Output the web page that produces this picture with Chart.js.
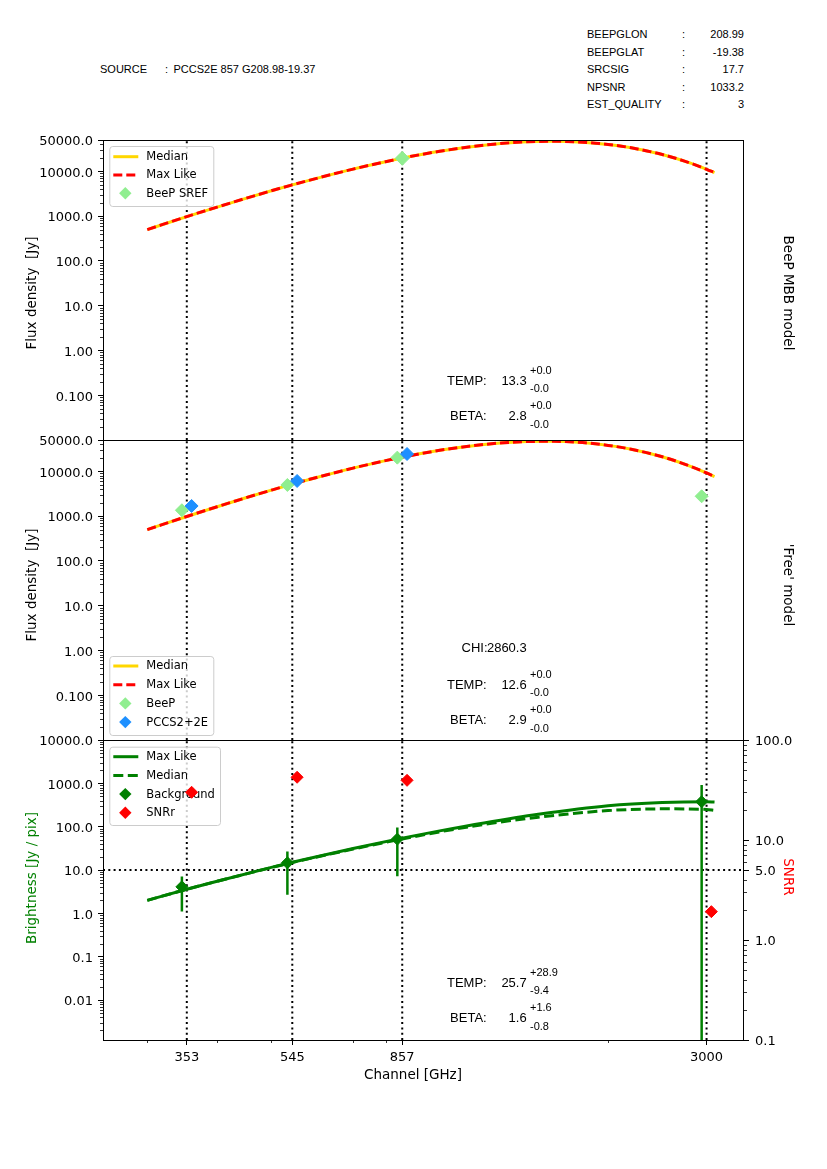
<!DOCTYPE html>
<html>
<head>
<meta charset="utf-8">
<script src="https://cdn.jsdelivr.net/npm/chart.js@4.4.1/dist/chart.umd.min.js"></script>
<style>
  body { margin: 0; background: #fff; }
  #page { position: relative; width: 827px; height: 1169px; overflow: hidden; background: #fff; }
  #page canvas { position: absolute; left: 0; }
  .t { position: absolute; white-space: pre; line-height: 1; color: #000; }
</style>
</head>
<body>
<div id="page">
  <canvas id="beepChart" width="827" height="340" style="top:120px"></canvas>
  <canvas id="freeChart" width="827" height="340" style="top:420px"></canvas>
  <canvas id="brightChart" width="827" height="380" style="top:720px"></canvas>
</div>
<script>
// Header info
const sourceName = 'PCCS2E 857 G208.98-19.37';
const infoKeys = ['BEEPGLON', 'BEEPGLAT', 'SRCSIG', 'NPSNR', 'EST_QUALITY'];
const infoValues = ['208.99', '-19.38', '17.7', '1033.2', '3'];

// Channels (GHz) and tick labels
const channels = [353, 545, 857, 3000];
const channelLabels = ['353', '545', '857', '3000'];
const channelMinor = [300, 400, 500, 700, 800, 2000];

const fluxTicks = [50000, 10000, 1000, 100, 10, 1, 0.1];
const fluxTickLabels = ['50000.0', '10000.0', '1000.0', '100.0', '10.0', '1.00', '0.100'];
const brightTicks = [10000, 1000, 100, 10, 1, 0.1, 0.01];
const brightTickLabels = ['10000.0', '1000.0', '100.0', '10.0', '1.0', '0.1', '0.01'];
const snrTicks = [100, 10, 5, 1, 0.1];
const snrTickLabels = ['100.0', '10.0', '5.0', '1.0', '0.1'];

// Model curves
const modelFreq = [300, 353, 400, 450, 500, 545, 600, 700, 800, 857, 1000, 1200, 1400, 1600, 1800, 2000, 2200, 2500, 2800, 3000, 3100];
const beepModelFlux = [500, 975, 1590, 2490, 3670, 4980, 6870, 11200, 16400, 19700, 28000, 38300, 44900, 46800, 44800, 39800, 33500, 23700, 15400, 11100, 9350];
const freeModelFlux = [500, 980, 1620, 2560, 3790, 5180, 7190, 11800, 17300, 20700, 29400, 39700, 45700, 46800, 43700, 37900, 31100, 21100, 13100, 9200, 7640];

// Photometry
const beepSrefFreq = [857];
const beepSrefFlux = [19500];
const beepFlux = [1350, 4950, 20200, 2770];
const pccsFlux = [1680, 6080, 24350];

// Background brightness panel
const brightFreq = [300, 353, 400, 500, 545, 700, 857, 1000, 1200, 1500, 2000, 2500, 3000, 3100];
const brightMaxLike = [2.0, 3.6, 5.5, 11.5, 15.1, 31.5, 54.5, 80, 122, 193, 305, 362, 378, 370];
const brightMedian = [2.0, 3.6, 5.5, 11.4, 14.9, 30.5, 52, 76, 113, 165, 235, 258, 250, 238];
const background = [4.1, 14.7, 51.7, 376];
const backgroundErr = [3.0, 12, 44.5, 540];
const snr = [30, 42.4, 39.5, 1.92];
const snrLevel = 10; // brightness level matching SNR 5

// Fit results
const fitTemp = ['13.3', '12.6', '25.7'];
const fitTempUp = ['+0.0', '+0.0', '+28.9'];
const fitTempDown = ['-0.0', '-0.0', '-9.4'];
const fitBeta = ['2.8', '2.9', '1.6'];
const fitBetaUp = ['+0.0', '+0.0', '+1.6'];
const fitBetaDown = ['-0.0', '-0.0', '-0.8'];
const freeChi = '2860.3';

const GREEN = '#008000';
const GOLD = '#FFD700';
const LIGHTGREEN = '#90EE90';
const BLUE = '#1E90FF';
const X_MIN = 250, X_MAX = 3500;
const FLUX_MIN = 0.01, FLUX_MAX = 50000;
const BRIGHT_MIN = 0.0012, BRIGHT_MAX = 10000;
const SNR_MIN = 0.1, SNR_MAX = 100;
const tickFont = { family: 'DejaVu Sans', size: 13 };
const dotted = [2, 3.3];

const pts = (xs, ys, k = 1) => ys.map((y, i) => ({ x: xs[i] * k, y }));

function logMinors(lo, hi, skip) {
  const out = [];
  for (let e = Math.floor(Math.log10(lo)); e <= Math.ceil(Math.log10(hi)); e++) {
    for (let m = 2; m <= 9; m++) {
      const v = m * Math.pow(10, e);
      if (v > lo && v < hi && !skip.some(s => Math.abs(s - v) < 1e-9 * v)) out.push(v);
    }
  }
  return out;
}

function yAxis(min, max, ticks, labels, position, width) {
  return {
    type: 'logarithmic', position, min, max, bounds: 'data',
    afterBuildTicks: s => { s.ticks = ticks.map(v => ({ value: v })); },
    afterFit: s => { s.width = width; },
    grid: { drawOnChartArea: false, drawTicks: true, tickLength: 5, color: '#000', lineWidth: 1 },
    border: { display: false },
    ticks: { autoSkip: false, padding: position === 'left' ? 5 : 6, labelOffset: 2, color: '#000', font: tickFont,
      callback: (v, i) => labels[i] }
  };
}

function xAxis(show) {
  return {
    type: 'logarithmic', min: X_MIN, max: X_MAX, bounds: 'data', display: show,
    afterBuildTicks: s => { s.ticks = channels.map(v => ({ value: v })); },
    afterFit: s => { s.height = show ? 40 : 0; },
    grid: { drawOnChartArea: false, drawTicks: true, tickLength: 5, color: '#000', lineWidth: 1 },
    border: { display: false },
    ticks: { autoSkip: false, maxRotation: 0, padding: 5, color: '#000', font: tickFont,
      callback: (v, i) => channelLabels[i] }
  };
}

// dotted channel markers spanning the panel
function channelLines(yMin, yMax, yAxisID) {
  return channels.map(c => ({
    label: 'ch' + c, data: [{ x: c, y: yMin }, { x: c, y: yMax }], yAxisID,
    showLine: true, borderColor: '#000', borderWidth: 2, borderDash: dotted,
    pointRadius: 0, order: 10
  }));
}

function curve(label, data, color, dash, order, yAxisID = 'y') {
  return {
    label, data, yAxisID, showLine: true, borderColor: color, borderWidth: 3,
    borderDash: dash || [], cubicInterpolationMode: 'monotone', pointRadius: 0, order
  };
}

function markers(label, data, color, r, order, yAxisID = 'y') {
  return {
    label, data, yAxisID, pointStyle: 'rectRot', pointRadius: r,
    pointBackgroundColor: color, pointBorderColor: color, pointBorderWidth: 1, order
  };
}

// panel frame
const framePlugin = {
  id: 'frame',
  afterDatasetsDraw(chart) {
    const a = chart.chartArea, ctx = chart.ctx;
    ctx.save();
    ctx.strokeStyle = '#000';
    ctx.lineWidth = 1;
    ctx.strokeRect(Math.round(a.left) + 0.5, Math.round(a.top) + 0.5,
      Math.round(a.right - a.left) - 1, Math.round(a.bottom - a.top));
    ctx.restore();
  }
};

function minorTicks(list) {
  return {
    id: 'minorTicks',
    afterDraw(chart) {
      const ctx = chart.ctx;
      ctx.save();
      ctx.strokeStyle = '#000';
      ctx.lineWidth = 0.8;
      list.forEach(({ axis, values }) => {
        const s = chart.scales[axis];
        values.forEach(v => {
          const p = Math.round(s.getPixelForValue(v)) + 0.5;
          ctx.beginPath();
          if (axis === 'x') { ctx.moveTo(p, s.top); ctx.lineTo(p, s.top + 3); }
          else if (s.position === 'right') { ctx.moveTo(s.left, p); ctx.lineTo(s.left + 3, p); }
          else { ctx.moveTo(s.right, p); ctx.lineTo(s.right - 3, p); }
          ctx.stroke();
        });
      });
      ctx.restore();
    }
  };
}

// matplotlib-like legend box, offsets from chart area top-left
function legendBox(box, items, beforeLabel) {
  const draw = chart => {
    const ctx = chart.ctx, a = chart.chartArea;
    const bx = a.left + box.dx, by = a.top + box.dy;
    ctx.save();
    ctx.beginPath();
    ctx.roundRect(bx + 0.5, by + 0.5, box.w, box.h, 3);
    ctx.fillStyle = 'rgba(255,255,255,0.8)';
    ctx.fill();
    ctx.strokeStyle = '#cccccc';
    ctx.lineWidth = 1;
    ctx.stroke();
    ctx.font = '11.5px "DejaVu Sans"';
    ctx.textBaseline = 'middle';
    items.forEach((it, i) => {
      const y = by + box.row0 + i * box.step;
      if (it.kind === 'line') {
        ctx.beginPath();
        ctx.setLineDash(it.dash || []);
        ctx.strokeStyle = it.color;
        ctx.lineWidth = 3;
        ctx.moveTo(bx + 4, y);
        ctx.lineTo(bx + 29, y);
        ctx.stroke();
        ctx.setLineDash([]);
      } else {
        const cx = bx + 16, r = 6.2;
        ctx.beginPath();
        ctx.moveTo(cx, y - r); ctx.lineTo(cx + r, y); ctx.lineTo(cx, y + r); ctx.lineTo(cx - r, y);
        ctx.closePath();
        ctx.fillStyle = it.color;
        ctx.fill();
      }
      ctx.fillStyle = '#000';
      ctx.fillText(it.label, bx + 37, y + 0.5);
    });
    ctx.restore();
  };
  if (beforeLabel) {
    return { id: 'legendBox', beforeDatasetDraw(chart, args) {
      if (chart.data.datasets[args.index].label === beforeLabel) draw(chart);
    } };
  }
  return { id: 'legendBox', afterDatasetsDraw: draw };
}

const baseOptions = (padRight, scales) => ({
  responsive: false, animation: false, events: [],
  layout: { padding: { left: 0, right: padRight, top: 20, bottom: 20 } },
  plugins: { legend: { display: false }, tooltip: { enabled: false } },
  scales
});

const fluxMinors = logMinors(FLUX_MIN, FLUX_MAX, fluxTicks);

// Panel 1: BeeP MBB model
new Chart(document.getElementById('beepChart'), {
  type: 'scatter',
  data: {
    datasets: [
      ...channelLines(FLUX_MIN, FLUX_MAX, 'y'),
      curve('Median', pts(modelFreq, beepModelFlux), GOLD, null, 5),
      curve('Max Like', pts(modelFreq, beepModelFlux), '#FF0000', [9, 4], 4),
      markers('BeeP SREF', pts(beepSrefFreq, beepSrefFlux), LIGHTGREEN, 7, 1)
    ]
  },
  options: baseOptions(83, {
    x: xAxis(false),
    y: yAxis(FLUX_MIN, FLUX_MAX, fluxTicks, fluxTickLabels, 'left', 103)
  }),
  plugins: [framePlugin, minorTicks([{ axis: 'y', values: fluxMinors }]),
    legendBox({ dx: 6.3, dy: 6, w: 104, h: 60, row0: 10.7, step: 18.3 }, [
      { label: 'Median', kind: 'line', color: GOLD },
      { label: 'Max Like', kind: 'line', color: '#FF0000', dash: [9, 4] },
      { label: 'BeeP SREF', kind: 'marker', color: LIGHTGREEN }
    ])]
});

// Panel 2: 'Free' model
new Chart(document.getElementById('freeChart'), {
  type: 'scatter',
  data: {
    datasets: [
      ...channelLines(FLUX_MIN, FLUX_MAX, 'y'),
      curve('Median', pts(modelFreq, freeModelFlux), GOLD, null, 5),
      curve('Max Like', pts(modelFreq, freeModelFlux), '#FF0000', [9, 4], 4),
      markers('BeeP', pts(channels, beepFlux, 0.98), LIGHTGREEN, 6.5, 2),
      markers('PCCS2+2E', pts(channels, pccsFlux, 1.02), BLUE, 6.5, 1)
    ]
  },
  options: baseOptions(83, {
    x: xAxis(false),
    y: yAxis(FLUX_MIN, FLUX_MAX, fluxTicks, fluxTickLabels, 'left', 103)
  }),
  plugins: [framePlugin, minorTicks([{ axis: 'y', values: fluxMinors }]),
    legendBox({ dx: 6.3, dy: 216, w: 104, h: 79, row0: 10, step: 18.7 }, [
      { label: 'Median', kind: 'line', color: GOLD },
      { label: 'Max Like', kind: 'line', color: '#FF0000', dash: [9, 4] },
      { label: 'BeeP', kind: 'marker', color: LIGHTGREEN },
      { label: 'PCCS2+2E', kind: 'marker', color: BLUE }
    ])]
});

// Panel 3: background brightness and SNR
const errorBars = [];
channels.forEach((c, i) => {
  const lo = Math.max(background[i] - backgroundErr[i], BRIGHT_MIN);
  errorBars.push({ x: c * 0.98, y: lo }, { x: c * 0.98, y: background[i] + backgroundErr[i] }, { x: c * 0.98, y: null });
});

new Chart(document.getElementById('brightChart'), {
  type: 'scatter',
  data: {
    datasets: [
      ...channelLines(BRIGHT_MIN, BRIGHT_MAX, 'y'),
      { label: 'snr level', data: [{ x: X_MIN, y: snrLevel }, { x: X_MAX, y: snrLevel }], showLine: true,
        borderColor: '#000', borderWidth: 2, borderDash: dotted, pointRadius: 0, order: 10 },
      curve('Max Like', pts(brightFreq, brightMaxLike), GREEN, null, 5),
      curve('Median', pts(brightFreq, brightMedian), GREEN, [10, 4.5], 4),
      { label: 'errors', data: errorBars, showLine: true, spanGaps: false, borderColor: GREEN,
        borderWidth: 2.5, pointRadius: 0, order: 3 },
      markers('Background', pts(channels, background, 0.98), GREEN, 6, 2),
      markers('SNRr', pts(channels, snr, 1.02), '#FF0000', 6, 0, 'y2')
    ]
  },
  options: baseOptions(33, {
    x: xAxis(true),
    y: yAxis(BRIGHT_MIN, BRIGHT_MAX, brightTicks, brightTickLabels, 'left', 103),
    y2: yAxis(SNR_MIN, SNR_MAX, snrTicks, snrTickLabels, 'right', 50)
  }),
  plugins: [framePlugin,
    minorTicks([
      { axis: 'y', values: logMinors(BRIGHT_MIN, BRIGHT_MAX, brightTicks) },
      { axis: 'y2', values: logMinors(SNR_MIN, SNR_MAX, snrTicks) },
      { axis: 'x', values: channelMinor }
    ]),
    legendBox({ dx: 6.3, dy: 6.7, w: 110.7, h: 78.3, row0: 10, step: 18.7 }, [
      { label: 'Max Like', kind: 'line', color: GREEN },
      { label: 'Median', kind: 'line', color: GREEN, dash: [10, 4.5] },
      { label: 'Background', kind: 'marker', color: GREEN },
      { label: 'SNRr', kind: 'marker', color: '#FF0000' }
    ], 'SNRr')]
});

// Text overlays
const page = document.getElementById('page');
function txt(s, x, y, o = {}) {
  const d = document.createElement('div');
  d.className = 't';
  d.textContent = s;
  d.style.left = x + 'px';
  d.style.top = y + 'px';
  d.style.fontFamily = o.family || '"Liberation Sans", Arial, sans-serif';
  d.style.fontSize = (o.size || 13) + 'px';
  if (o.color) d.style.color = o.color;
  const tx = o.align === 'right' ? '-100%' : o.align === 'center' ? '-50%' : '0';
  d.style.transform = `translate(${tx}, -50%)` + (o.rot ? ` rotate(${o.rot}deg)` : '');
  page.appendChild(d);
}

txt('SOURCE', 100, 69, { size: 11 });
txt(':', 165, 69, { size: 11 });
txt(sourceName, 173.5, 69, { size: 11 });
infoKeys.forEach((k, i) => {
  const y = 34 + i * 17.5;
  txt(k, 587, y, { size: 11 });
  txt(':', 682, y, { size: 11 });
  txt(infoValues[i], 744, y, { size: 11, align: 'right' });
});

const tempY = [379.5, 683.5, 981.7];
tempY.forEach((ty, p) => {
  const by = ty + 35.3;
  txt('TEMP:', 486.7, ty, { align: 'right' });
  txt(fitTemp[p], 526.7, ty, { align: 'right' });
  txt(fitTempUp[p], 530, ty - 9.7, { size: 11 });
  txt(fitTempDown[p], 530, ty + 8.7, { size: 11 });
  txt('BETA:', 486.7, by, { align: 'right' });
  txt(fitBeta[p], 526.7, by, { align: 'right' });
  txt(fitBetaUp[p], 530, by - 9.7, { size: 11 });
  txt(fitBetaDown[p], 530, by + 8.7, { size: 11 });
});
txt('CHI:', 461.5, 647.3);
txt(freeChi, 526.7, 647.3, { align: 'right' });

const dv = '"DejaVu Sans", sans-serif';
txt('Flux density  [Jy]', 32, 293, { family: dv, size: 13.5, align: 'center', rot: -90 });
txt('Flux density  [Jy]', 32, 585, { family: dv, size: 13.5, align: 'center', rot: -90 });
txt('Brightness [Jy / pix]', 32, 878, { family: dv, size: 13.5, align: 'center', rot: -90, color: GREEN });
txt('BeeP MBB model', 788, 293, { family: dv, size: 13.5, align: 'center', rot: 90 });
txt("'Free' model", 788, 585, { family: dv, size: 13.5, align: 'center', rot: 90 });
txt('SNRR', 788, 877, { family: dv, size: 13.5, align: 'center', rot: 90, color: '#FF0000' });
txt('Channel [GHz]', 413, 1075, { family: dv, size: 13.5, align: 'center' });
</script>
</body>
</html>
